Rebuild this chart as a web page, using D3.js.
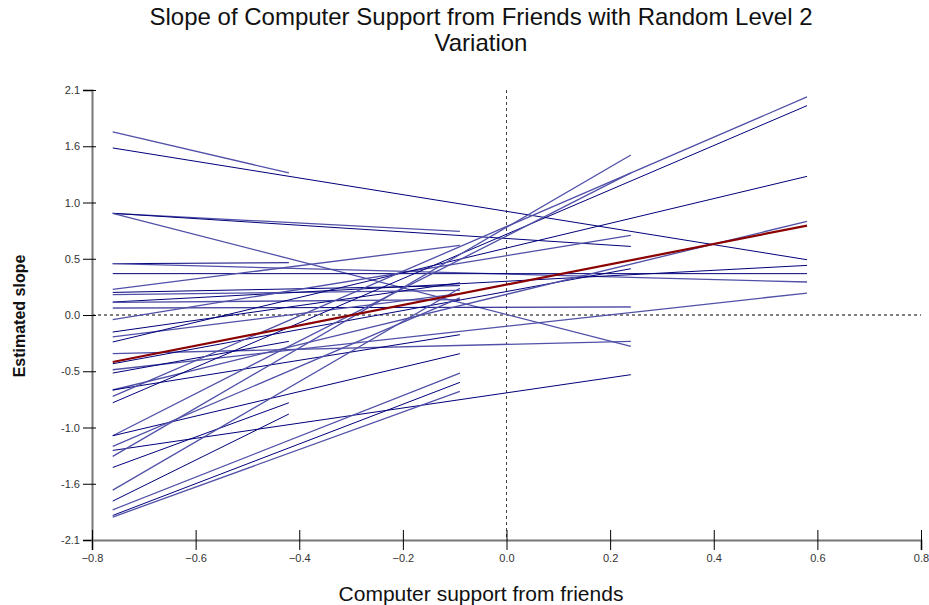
<!DOCTYPE html>
<html><head><meta charset="utf-8">
<script src="https://cdn.jsdelivr.net/npm/d3@7"></script>
<style>body{margin:0;background:#fff;} text{font-family:"Liberation Sans",Arial,sans-serif;}</style>
</head><body><svg id="c" width="929" height="605"></svg>
<script>
// ---- data ----
const xStart = -0.76;
const startVals = [1.709,1.559,0.949,0.949,0.949,0.479,0.479,0.386,0.239,0.211,0.190,0.121,0.118,0.065,-0.044,-0.159,-0.205,-0.252,-0.361,-0.455,-0.511,-0.542,-0.700,-0.700,-0.760,-0.819,-1.127,-1.127,-1.227,-1.264,-1.320,-1.423,-1.634,-1.737,-1.818,-1.871,-1.886];
const endXs =     [-0.42,0.58,-0.09,0.24,0.24,-0.42,0.58,0.58,-0.09,-0.09,-0.09,0.58,-0.09,0.24,0.24,-0.09,-0.09,0.58,0.24,0.24,0.58,-0.42,0.58,-0.09,0.58,0.58,0.24,-0.09,-0.09,0.24,0.24,-0.42,-0.09,-0.42,-0.09,-0.09,-0.09];
const endVals =   [1.326,0.516,0.780,0.640,-0.293,0.488,0.308,0.386,0.650,0.274,0.230,0.463,0.143,0.075,0.743,0.300,0.200,1.294,-0.246,0.432,0.205,-0.246,0.874,-0.184,2.035,1.954,1.326,-0.361,0.160,-0.557,1.493,-0.819,0.250,-0.924,-0.542,-0.629,-0.713];
const avgStart = -0.439, avgEndX = 0.58, avgEnd = 0.834;
const xTicks = [-0.8,-0.6,-0.4,-0.2,0.0,0.2,0.4,0.6,0.8];
const yTicks = [-2.1,-1.575,-1.05,-0.525,0,0.525,1.05,1.575,2.1];
const yTickLabels = ["-2.1","-1.6","-1.0","-0.5","0.0","0.5","1.0","1.6","2.1"];
const titleLines = ["Slope of Computer Support from Friends with Random Level 2","Variation"];
const xLabel = "Computer support from friends";
const yLabel = "Estimated slope";

const svg = d3.select("#c");
const x = d3.scaleLinear().domain([-0.8,0.8]).range([92,921]);
const y = d3.scaleLinear().domain([-2.1,2.1]).range([540,90]);

// title
svg.append("text").attr("text-anchor","middle")
  .attr("font-size",24).attr("fill","#111")
  .selectAll("tspan").data(titleLines).join("tspan")
  .attr("x",481).attr("y",(d,i)=>25+i*26).text(d=>d);

// reference dashed lines
svg.append("line").attr("x1",x(-0.8)).attr("x2",x(0.8)).attr("y1",y(0)).attr("y2",y(0))
  .attr("stroke","#000").attr("stroke-width",1).attr("stroke-dasharray","3,3");
svg.append("line").attr("x1",x(0)).attr("x2",x(0)).attr("y1",y(2.1)).attr("y2",y(-2.1))
  .attr("stroke","#444").attr("stroke-width",1).attr("stroke-dasharray","3,3");

// axes
const yAxis = d3.axisLeft(y).tickValues(yTicks).tickFormat((d,i)=>yTickLabels[i]).tickSize(9).tickPadding(3);
const gy = svg.append("g").attr("transform",`translate(${x(-0.8)},0)`).call(yAxis);
const xAxis = d3.axisBottom(x).tickValues(xTicks).tickFormat(d3.format(".1f")).tickSize(10).tickPadding(2);
const gx = svg.append("g").attr("transform",`translate(0,${y(-2.1)})`).call(xAxis);
[gx,gy].forEach(g=>{
  g.select(".domain").attr("stroke","#777").attr("stroke-width",2);
  g.selectAll(".tick line").attr("stroke","#000");
  g.selectAll(".tick text").attr("font-size",11).attr("fill","#333").attr("font-family","Liberation Sans, Arial, sans-serif");
});
gy.selectAll(".tick line").attr("x1",4);
gx.selectAll(".tick line").attr("y1",-10);
gx.selectAll(".tick text").attr("dy","0.9em");

// group lines
const lines = startVals.map((s,i)=>({x0:xStart,y0:s,x1:endXs[i],y1:endVals[i]}));
svg.append("g").selectAll("line").data(lines).join("line")
  .attr("x1",d=>x(d.x0)).attr("y1",d=>y(d.y0)).attr("x2",d=>x(d.x1)).attr("y2",d=>y(d.y1))
  .attr("stroke",(d,i)=> i%2? "#00007a":"#5050a8")
  .attr("stroke-width",(d,i)=> i%2? 1:1.3);

// average line
svg.append("line").attr("x1",x(xStart)).attr("y1",y(avgStart)).attr("x2",x(avgEndX)).attr("y2",y(avgEnd))
  .attr("stroke","#8b0000").attr("stroke-width",2.2);

// axis labels
svg.append("text").attr("x",481).attr("y",601).attr("text-anchor","middle").attr("font-size",21).attr("fill","#111").text(xLabel);
svg.append("text").attr("transform",`translate(25,316) rotate(-90)`).attr("text-anchor","middle")
  .attr("font-size",16).attr("font-weight","bold").attr("fill","#111").text(yLabel);
</script></body></html>
